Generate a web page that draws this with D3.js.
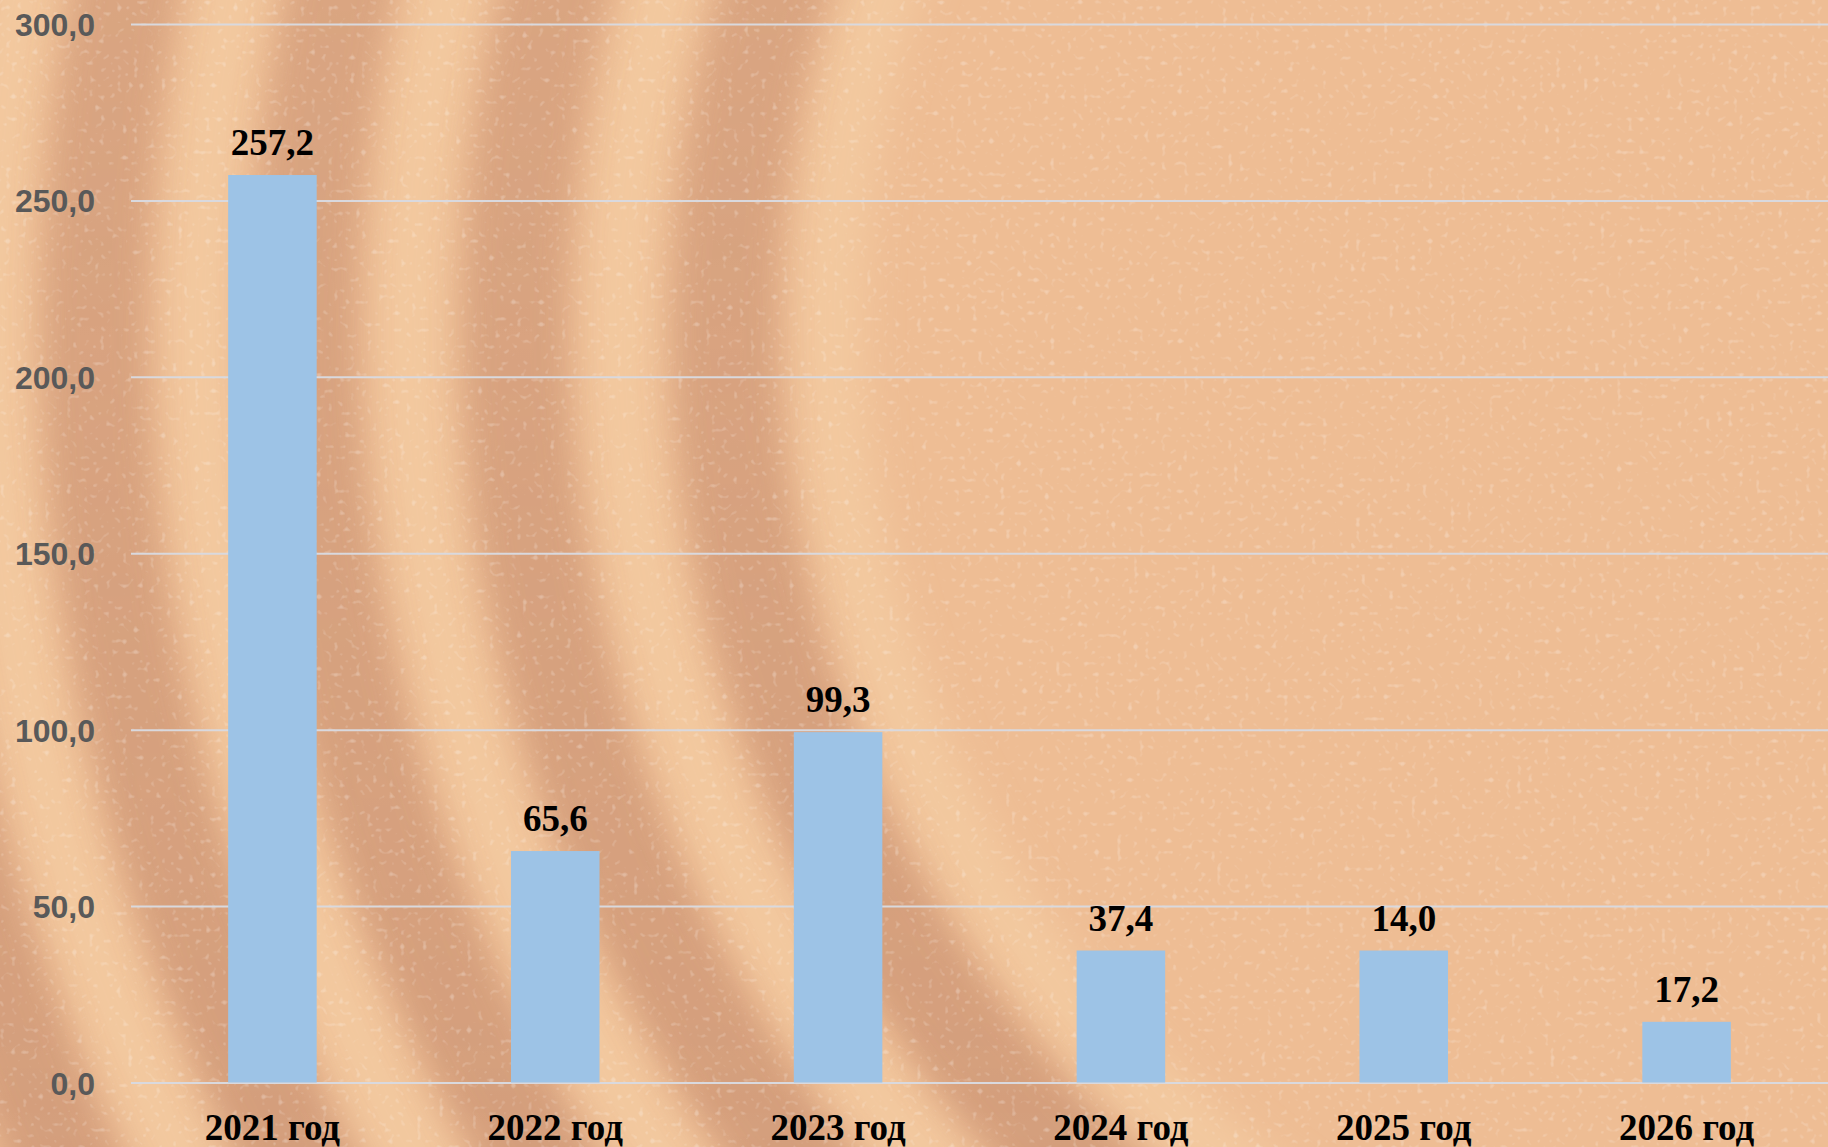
<!DOCTYPE html>
<html>
<head>
<meta charset="utf-8">
<script src="https://cdn.jsdelivr.net/npm/d3@7/dist/d3.min.js"></script>
<style>
  html, body { margin: 0; padding: 0; background: #EEBD94; overflow: hidden; }
  svg { display: block; }
</style>
</head>
<body>
<svg id="chart" width="1828" height="1147"></svg>
<script>
// ---- data ----
const categories = ["2021 год", "2022 год", "2023 год", "2024 год", "2025 год", "2026 год"];
const barValues = [257.2, 65.6, 99.3, 37.4, 37.4, 17.2];   // bar heights as drawn
const labelValues = [257.2, 65.6, 99.3, 37.4, 14.0, 17.2]; // data labels as printed
const yTicks = [0, 50, 100, 150, 200, 250, 300];
const rippleRadii = [1180, 1390, 1600, 1810, 2020];        // background sand ripples (dark)
const ridgeRadii = [1075, 1285, 1495, 1705, 1915];         // background sand ridges (light)

// ---- setup ----
const W = 1828, H = 1147;
const svg = d3.select("#chart");
const defs = svg.append("defs");

const fmt = v => d3.format(".1f")(v).replace(".", ",");

// background filters
function blurFilter(id, sd) {
  const f = defs.append("filter").attr("id", id)
    .attr("filterUnits", "userSpaceOnUse")
    .attr("x", -200).attr("y", -200).attr("width", W + 400).attr("height", H + 400);
  f.append("feGaussianBlur").attr("stdDeviation", sd);
}
blurFilter("blurDark", 16);
blurFilter("blurLight", 18);

const grain = defs.append("filter").attr("id", "grain")
  .attr("x", 0).attr("y", 0).attr("width", "100%").attr("height", "100%");
grain.append("feTurbulence").attr("type", "fractalNoise")
  .attr("baseFrequency", 0.18).attr("numOctaves", 1).attr("seed", 11).attr("result", "n");
grain.append("feColorMatrix").attr("in", "n").attr("type", "matrix")
  .attr("values", "0 0 0 0 1  0 0 0 0 0.95  0 0 0 0 0.92  5 0 0 0 -3.0");

// vertical tone: ripples look stronger in the lower part
const fade = defs.append("linearGradient").attr("id", "fade")
  .attr("x1", 0).attr("y1", 0).attr("x2", 0).attr("y2", 1);
fade.append("stop").attr("offset", 0).attr("stop-color", "#fff").attr("stop-opacity", 0.8);
fade.append("stop").attr("offset", 1).attr("stop-color", "#fff").attr("stop-opacity", 1);
defs.append("mask").attr("id", "fadeMask")
  .append("rect").attr("width", W).attr("height", H).attr("fill", "url(#fade)");

const bg = svg.append("g");
bg.append("rect").attr("width", W).attr("height", H).attr("fill", "#EEBD94");
bg.append("g").attr("filter", "url(#blurLight)")
  .selectAll("circle").data(ridgeRadii).join("circle")
  .attr("cx", 1905).attr("cy", 327).attr("r", d => d)
  .attr("fill", "none")
  .attr("stroke", "#F8D4A9")
  .attr("stroke-opacity", 0.5)
  .attr("stroke-width", 70);
bg.append("g").attr("mask", "url(#fadeMask)")
  .append("g").attr("filter", "url(#blurDark)")
  .selectAll("circle").data(rippleRadii).join("circle")
  .attr("cx", 1905).attr("cy", 327).attr("r", d => d)
  .attr("fill", "none")
  .attr("stroke", "#C78E6F")
  .attr("stroke-opacity", 0.66)
  .attr("stroke-width", 105);
bg.append("rect").attr("width", W).attr("height", H).attr("filter", "url(#grain)").attr("opacity", 0.28);

// scales
const x = d3.scaleBand().domain(categories).range([131, 1828])
  .paddingInner(0.687).paddingOuter(0.3435);
const y = d3.scaleLinear().domain([0, 300]).range([1082.5, 24]);

// gridlines + y labels
const yAxis = d3.axisLeft(y).tickValues(yTicks).tickSize(-(1828 - 131)).tickFormat(fmt).tickPadding(36);
const gy = svg.append("g").attr("transform", "translate(131,0)").call(yAxis);
gy.select(".domain").remove();
gy.selectAll(".tick line").attr("stroke", "#D9D9DE").attr("stroke-width", 2);
gy.selectAll(".tick text")
  .attr("fill", "#595959")
  .attr("font-family", "'Liberation Sans', Arial, sans-serif")
  .attr("font-weight", "bold")
  .attr("font-size", 32)
  .attr("dy", "0.36em");

// bars
svg.append("g").selectAll("rect").data(categories).join("rect")
  .attr("x", d => x(d))
  .attr("y", (d, i) => y(barValues[i]))
  .attr("width", x.bandwidth())
  .attr("height", (d, i) => y(0) - y(barValues[i]))
  .attr("fill", "#9DC3E6");

// data labels
svg.append("g").selectAll("text").data(categories).join("text")
  .attr("x", d => x(d) + x.bandwidth() / 2)
  .attr("y", (d, i) => y(barValues[i]) - 20)
  .attr("text-anchor", "middle")
  .attr("font-family", "'Liberation Serif', 'Times New Roman', serif")
  .attr("font-weight", "bold")
  .attr("font-size", 37)
  .attr("fill", "#000")
  .text((d, i) => fmt(labelValues[i]));

// x axis labels
const xAxis = d3.axisBottom(x).tickSize(0).tickPadding(0);
const gx = svg.append("g").attr("transform", "translate(0,1082.5)").call(xAxis);
gx.select(".domain").remove();
gx.selectAll(".tick text")
  .attr("y", 57)
  .attr("dy", 0)
  .attr("fill", "#000")
  .attr("font-family", "'Liberation Serif', 'Times New Roman', serif")
  .attr("font-weight", "bold")
  .attr("font-size", 37);
</script>
</body>
</html>
